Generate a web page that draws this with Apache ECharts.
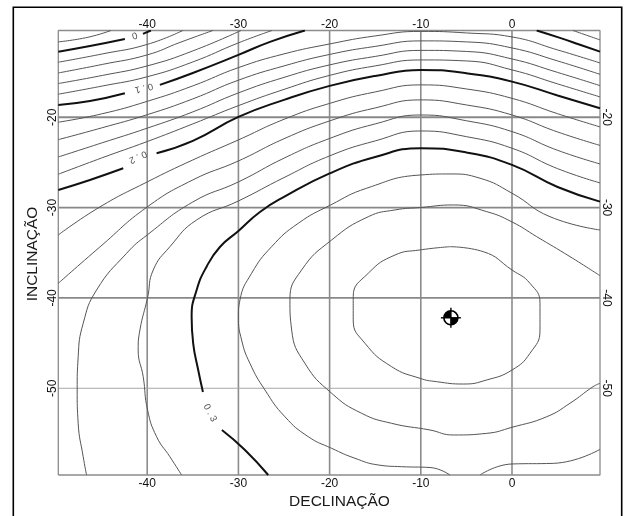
<!DOCTYPE html>
<html>
<head>
<meta charset="utf-8">
<script src="https://cdn.jsdelivr.net/npm/echarts@6/dist/echarts.min.js"></script>
<style>
  html, body { margin: 0; padding: 0; background: #fff; }
  #chart { width: 625px; height: 516px; }
</style>
</head>
<body>
<div id="chart"></div>
<script>
// Extent of the surveyed area (declination / inclination, degrees)
const DEC_RANGE = [-49.75, 9.65];
const INC_RANGE = [-59.6, -10.4];

// Tick values on both axes
const decTicks = [-40, -30, -20, -10, 0];
const incTicks = [-20, -30, -40, -50];

// Contour lines as [declination, inclination] points; a level may have several pieces
const cM002 = [[[-49.75, -11.66], [-46.5, -11.15], [-43.98, -10.4]]];
const c000 = [
  [[-49.75, -12.74], [-46.28, -12.11], [-42.45, -11.33]],
  [[-40.47, -10.78], [-39.6, -10.4]]
];
const c002 = [[[-49.75, -13.91], [-44.9, -12.99], [-40.0, -11.94], [-36.1, -10.4]]];
const c004 = [[[-49.75, -15.10], [-44.9, -14.15], [-40.0, -13.10], [-36.41, -11.72], [-32.8, -10.4]]];
const c006 = [[[-49.75, -16.27], [-44.9, -15.37], [-40.0, -14.32], [-35.0, -12.66], [-29.72, -10.4]]];
const c008 = [
  [[-49.75, -17.45], [-44.9, -16.54], [-40.0, -15.52], [-35.0, -13.88], [-30.0, -11.77], [-26.32, -10.4]],
  [[6.69, -10.4], [9.65, -11.44]]
];
const c010 = [
  [[-49.75, -18.64], [-46.28, -18.20], [-42.45, -17.34]],
  [[-38.61, -16.42], [-35.0, -15.10], [-30.0, -13.10], [-26.54, -11.66], [-22.71, -10.4]],
  [[2.71, -10.4], [5.26, -11.22], [7.46, -11.98], [9.65, -12.74]]
];
const c012 = [[[-49.75, -20.55], [-45, -19.63], [-40, -18.24], [-35, -16.53], [-30, -14.51], [-25, -12.99], [-20, -11.89], [-15, -11.0], [-10, -10.5], [-5, -10.67], [0, -11.11], [5, -12.55], [9.65, -13.99]]];
const c014 = [[[-49.75, -22.48], [-45, -21.18], [-40, -19.72], [-35, -17.97], [-30, -15.90], [-25, -14.32], [-20, -13.05], [-15, -12.16], [-10, -11.55], [-5, -11.66], [0, -12.33], [5, -13.77], [9.65, -15.25]]];
const c016 = [[[-49.75, -24.40], [-45, -22.85], [-40, -21.21], [-35, -19.41], [-30, -17.31], [-25, -15.59], [-20, -14.21], [-15, -13.27], [-10, -12.60], [-5, -12.72], [0, -13.55], [5, -15.04], [9.65, -16.50]]];
const c018 = [[[-49.75, -26.31], [-45, -24.51], [-40, -22.69], [-35, -20.74], [-30, -18.72], [-25, -16.92], [-20, -15.37], [-15, -14.32], [-10, -13.66], [-5, -13.77], [0, -14.76], [5, -16.31], [9.65, -17.75]]];
const c020 = [
  [[-49.75, -28.05], [-46.28, -26.94], [-42.63, -25.65]],
  [[-38.97, -23.99], [-35, -22.62], [-30, -19.97], [-25, -18.08], [-20, -16.53], [-15, -15.43], [-10, -14.76], [-5, -15.13], [0, -16.06], [5, -17.59], [9.65, -19.0]]
];
const c022 = [[[-49.75, -33.03], [-45.19, -29.93], [-40, -27.16], [-35, -24.73], [-30, -22.51], [-25, -20.23], [-20, -18.47], [-15, -17.20], [-10, -16.42], [-5, -16.87], [0, -17.91], [5, -19.61], [9.65, -21.07]]];
const c024 = [[[-49.75, -38.38], [-45.19, -34.36], [-40, -29.93], [-35, -26.94], [-30, -24.84], [-25, -22.38], [-20, -20.41], [-15, -18.97], [-10, -18.08], [-5, -18.64], [0, -19.75], [5, -21.63], [9.65, -23.12]]];
const c026 = [[[-46.65, -59.6], [-47.02, -57.58], [-47.57, -53.88], [-47.68, -50.19], [-47.57, -46.5], [-47.02, -42.81], [-45.55, -39.12], [-42.26, -35.06], [-40, -33.03], [-35, -29.38], [-30, -27.16], [-25, -24.53], [-20, -22.35], [-15, -20.74], [-10, -19.75], [-5, -20.39], [0, -21.59], [5, -23.66], [9.65, -25.17]]];
const c028 = [[[-36.23, -59.6], [-37.51, -57.58], [-38.97, -55.36], [-39.96, -52.41], [-40.44, -48.72], [-40.99, -45.76], [-40.8, -43.55], [-39.96, -39.97], [-39.34, -36.91], [-37.51, -34.33], [-34.58, -31.37], [-30, -29.27], [-25, -26.68], [-20, -24.28], [-15, -22.62], [-10, -21.52], [-5, -22.15], [0, -23.43], [5, -25.69], [9.65, -27.27]]];
const c030 = [
  [[9.65, -29.34], [5, -27.72], [0, -25.28], [-5, -23.9], [-10, -23.43], [-15, -24.4], [-20, -26.22], [-25, -28.82], [-27.64, -30.49], [-30, -32.59], [-32.03, -34.36], [-33.49, -36.54], [-34.58, -39.12], [-35.13, -42.08], [-34.96, -45.02], [-34.41, -47.98], [-33.89, -50.41]],
  [[-31.81, -54.62], [-29.28, -56.83], [-26.73, -59.6]]
];
const c032 = [
  [[-6.8, -59.6], [-8.99, -58.77], [-12.1, -58.68], [-14.67, -58.49], [-17.22, -57.75], [-19.77, -56.65], [-22.34, -55.36], [-24.9, -53.15], [-27.09, -50.19], [-28.74, -47.24], [-29.65, -44.66], [-30, -42.08], [-29.83, -40.23], [-28.55, -37.27], [-26.36, -34.33], [-23.44, -31.74], [-19.88, -29.71], [-15.94, -27.86], [-10, -26.39], [-6.8, -26.28], [-3.51, -26.75], [0, -28.41], [4.17, -31.01], [9.65, -32.48]],
  [[-3.51, -59.6], [0, -58.38], [4.53, -58.31], [9.65, -56.76]]
];
const c034 = [[[9.65, -37.54], [6.36, -35.43], [2.71, -33.22], [0, -31.59], [-2.77, -30.45], [-6.44, -29.71], [-10, -29.99], [-12.83, -30.26], [-15.76, -31.01], [-19.77, -33.58], [-23.07, -36.91], [-24.35, -40.23], [-24.16, -43.55], [-22.71, -47.24], [-19.77, -50.56], [-16.49, -52.77], [-13.2, -53.88], [-8.99, -54.62], [-6.44, -55.17], [-2.77, -54.99], [0, -54.32], [3.81, -53.15], [6.36, -51.66], [8.88, -49.83], [9.65, -49.45]]];
const c036 = [[[-6.8, -34.33], [-3.15, -34.88], [0, -36.91], [1.97, -38.38], [3.07, -40.59], [3.07, -43.55], [1.97, -46.13], [0, -47.98], [-2.77, -49.08], [-5.34, -49.53], [-8.26, -49.27], [-10.09, -48.9], [-13.2, -47.61], [-16.12, -45.02], [-17.41, -42.44], [-17.41, -39.86], [-15.76, -37.27], [-12.83, -35.25], [-10.09, -34.69], [-6.8, -34.33]]];

const contourLevels = [-0.02, 0, 0.02, 0.04, 0.06, 0.08, 0.1, 0.12, 0.14, 0.16, 0.18, 0.2, 0.22, 0.24, 0.26, 0.28, 0.3, 0.32, 0.34, 0.36];
const contourLines = [cM002, c000, c002, c004, c006, c008, c010, c012, c014, c016, c018, c020, c022, c024, c026, c028, c030, c032, c034, c036];

// In-line labels on the index contours: text, position, angle along the line
const labelTexts = ['0', '0 . 1', '0 . 2', '0 . 3'];
const labelDec = [-41.35, -40.36, -41.02, -33.12];
const labelInc = [-11.08, -16.76, -24.4, -52.74];
const labelAngle = [15, 193, 204, -62];

// Marked point (centre symbol)
const targetPoint = [-6.7, -42.2];

const FONT = '"Liberation Sans", Arial, Helvetica, sans-serif';

const series = [];

// grid lines
decTicks.forEach(function (d) {
  series.push({
    type: 'line', data: [[d, INC_RANGE[0]], [d, INC_RANGE[1]]],
    showSymbol: false, silent: true, z: 1,
    lineStyle: { color: '#8c8c8c', width: 1.6 }
  });
});
incTicks.forEach(function (v) {
  const light = v === -50;
  series.push({
    type: 'line', data: [[DEC_RANGE[0], v], [DEC_RANGE[1], v]],
    showSymbol: false, silent: true, z: 1,
    lineStyle: { color: light ? '#a8a8a8' : '#888', width: light ? 1 : 1.8 }
  });
});

// plot frame
series.push({
  type: 'line',
  data: [[DEC_RANGE[0], INC_RANGE[0]], [DEC_RANGE[1], INC_RANGE[0]], [DEC_RANGE[1], INC_RANGE[1]], [DEC_RANGE[0], INC_RANGE[1]], [DEC_RANGE[0], INC_RANGE[0]]],
  showSymbol: false, silent: true, clip: false, z: 2,
  lineStyle: { color: '#8c8c8c', width: 1.3 }
});

// contour lines; every 0.1 is an index contour
contourLines.forEach(function (pieces, i) {
  const lvl = contourLevels[i];
  const index = Math.abs(lvl * 10 - Math.round(lvl * 10)) < 1e-6;
  pieces.forEach(function (pts) {
    series.push({
      type: 'line', data: pts, showSymbol: false, silent: true,
      smooth: 0.5, z: 3,
      lineStyle: { color: index ? '#111' : '#555', width: index ? 2 : 1 }
    });
  });
});

// contour labels
series.push({
  type: 'scatter', symbolSize: 0, silent: true, z: 4,
  data: labelTexts.map(function (t, i) {
    return {
      value: [labelDec[i], labelInc[i]],
      label: { show: true, position: 'inside', formatter: t, rotate: labelAngle[i] }
    };
  }),
  label: { fontSize: 9.5, color: '#222', fontFamily: FONT }
});

// centre symbol
series.push({
  type: 'custom', z: 5, silent: true,
  data: [targetPoint],
  renderItem: function (params, api) {
    const c = api.coord([api.value(0), api.value(1)]);
    const r = 7;
    return {
      type: 'group',
      children: [
        { type: 'circle', shape: { cx: c[0], cy: c[1], r: r }, style: { fill: '#fff', stroke: '#000', lineWidth: 1.6 } },
        { type: 'sector', shape: { cx: c[0], cy: c[1], r0: 0, r: r, startAngle: Math.PI, endAngle: Math.PI * 1.5 }, style: { fill: '#000' } },
        { type: 'sector', shape: { cx: c[0], cy: c[1], r0: 0, r: r, startAngle: 0, endAngle: Math.PI / 2 }, style: { fill: '#000' } },
        { type: 'line', shape: { x1: c[0] - r - 3, y1: c[1], x2: c[0] + r + 3, y2: c[1] }, style: { stroke: '#000', lineWidth: 1.4 } },
        { type: 'line', shape: { x1: c[0], y1: c[1] - r - 3, x2: c[0], y2: c[1] + r + 3 }, style: { stroke: '#000', lineWidth: 1.4 } }
      ]
    };
  }
});

function axisCommon(extent) {
  return {
    type: 'value', min: extent[0], max: extent[1],
    axisLine: { show: false }, axisTick: { show: false }, splitLine: { show: false }
  };
}
const labelStyle = { fontSize: 12, color: '#111', fontFamily: FONT };

const option = {
  animation: false,
  backgroundColor: '#fff',
  grid: { left: 58.3, right: 25, top: 30.5, bottom: 41, containLabel: false, outerBoundsMode: 'none' },
  xAxis: [
    Object.assign(axisCommon(DEC_RANGE), { position: 'bottom', axisLabel: Object.assign({ customValues: decTicks, margin: 3 }, labelStyle) }),
    Object.assign(axisCommon(DEC_RANGE), { position: 'top', axisLabel: Object.assign({ customValues: decTicks, margin: 0 }, labelStyle) })
  ],
  yAxis: [
    Object.assign(axisCommon(INC_RANGE), { position: 'left', axisLabel: Object.assign({ customValues: incTicks, margin: 0, rotate: 90 }, labelStyle) }),
    Object.assign(axisCommon(INC_RANGE), { position: 'right', axisLabel: Object.assign({ customValues: incTicks, margin: 0, rotate: -90 }, labelStyle) })
  ],
  graphic: [
    { type: 'rect', shape: { x: 13.3, y: 7.3, width: 608.4, height: 560 }, style: { fill: null, stroke: '#000', lineWidth: 1.6 }, silent: true },
    { type: 'text', x: 32.5, y: 254, rotation: Math.PI / 2,
      style: { text: 'INCLINAÇÃO', font: '15.5px ' + FONT, fill: '#1a1a1a', align: 'center', verticalAlign: 'middle' } },
    { type: 'text', x: 339.5, y: 501.5,
      style: { text: 'DECLINAÇÃO', font: '15.5px ' + FONT, fill: '#1a1a1a', align: 'center', verticalAlign: 'middle' } }
  ],
  series: series
};

const chart = echarts.init(document.getElementById('chart'), null, { renderer: 'canvas' });
chart.setOption(option);
</script>
</body>
</html>
